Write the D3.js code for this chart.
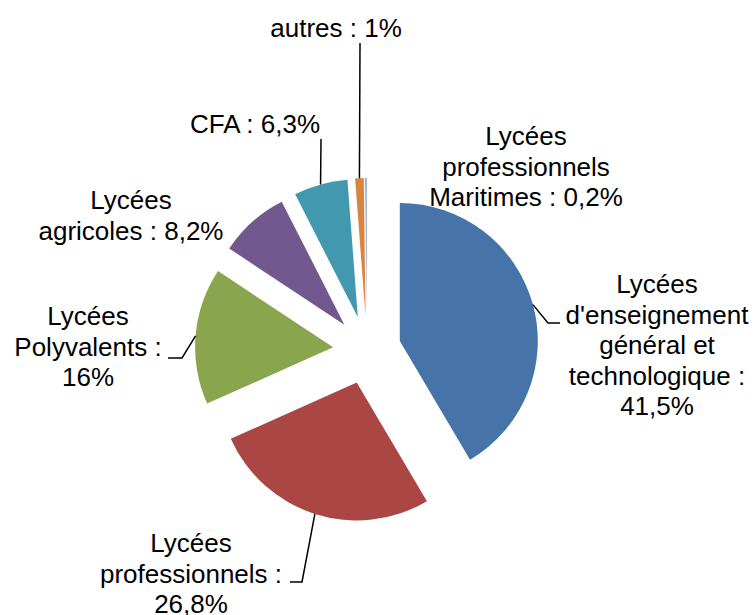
<!DOCTYPE html>
<html>
<head>
<meta charset="utf-8">
<script src="https://cdn.jsdelivr.net/npm/d3@7"></script>
<style>
  body { margin: 0; background: #fff; }
  text { font-family: "Liberation Sans", Arial, sans-serif; font-size: 26px; fill: #000; }
</style>
</head>
<body>
<script>
// data
var categories = ["Lycées d'enseignement général et technologique", "Lycées professionnels",
    "Lycées Polyvalents", "Lycées agricoles", "CFA", "autres", "Lycées professionnels Maritimes"];
var values = [41.5, 26.8, 16, 8.2, 6.3, 1, 0.2];
var valueLabels = ["41,5%", "26,8%", "16%", "8,2%", "6,3%", "1%", "0,2%"];
var labelLines = [
    ["Lycées", "d'enseignement", "général et", "technologique :", "41,5%"],
    ["Lycées", "professionnels :", "26,8%"],
    ["Lycées", "Polyvalents :", "16%"],
    ["Lycées", "agricoles : 8,2%"],
    ["CFA : 6,3%"],
    ["autres : 1%"],
    ["Lycées", "professionnels", "Maritimes : 0,2%"]
];
var colors = ["#4674a9", "#aa4744", "#89a54e", "#71588f", "#4298af", "#db843d", "#93a9cf"];

// layout of labels (center x, first baseline) and leader elbows
var labelPos = [
    { x: 657, y: 293, elbow: [[548, 323], [560, 323]] },
    { x: 191, y: 552, elbow: [[302, 582], [290, 582]] },
    { x: 88, y: 325, elbow: [[182, 358], [168, 358]] },
    { x: 131, y: 209, elbow: null },
    { x: 255, y: 133, elbow: [[321, 139]] },
    { x: 336, y: 37, elbow: [[360, 43]] },
    { x: 526, y: 145, elbow: null }
];

var width = 754, height = 615;
var cx = 367, cy = 350, radius = 138, explode = 34, lineH = 30.5;

var svg = d3.select('body').append('svg')
    .attr('width', width)
    .attr('height', height);

var pie = d3.pie().sort(null).value(function (d) { return d; });
var arc = d3.arc().innerRadius(0).outerRadius(radius);
var arcs = pie(values);

function midAngle(d) { return (d.startAngle + d.endAngle) / 2; }

var g = svg.append('g').attr('transform', 'translate(' + cx + ',' + cy + ')');

g.selectAll('path.slice')
    .data(arcs)
    .enter().append('path')
    .attr('class', 'slice')
    .attr('d', arc)
    .attr('fill', function (d, i) { return colors[i]; })
    .attr('transform', function (d) {
        var a = midAngle(d);
        return 'translate(' + (Math.sin(a) * explode) + ',' + (-Math.cos(a) * explode) + ')';
    });

// leader lines
arcs.forEach(function (d, i) {
    var lp = labelPos[i];
    if (!lp.elbow) return;
    var a = midAngle(d);
    var r = radius + explode;
    var pts = [[cx + Math.sin(a) * r, cy - Math.cos(a) * r]].concat(lp.elbow);
    svg.append('path')
        .attr('d', d3.line()(pts))
        .attr('fill', 'none')
        .attr('stroke', '#000')
        .attr('stroke-width', 1.5);
});

// labels
labelLines.forEach(function (lines, i) {
    var lp = labelPos[i];
    var t = svg.append('text')
        .attr('text-anchor', 'middle');
    lines.forEach(function (s, j) {
        t.append('tspan')
            .attr('x', lp.x)
            .attr('y', lp.y + j * lineH)
            .text(s);
    });
});
</script>
</body>
</html>
